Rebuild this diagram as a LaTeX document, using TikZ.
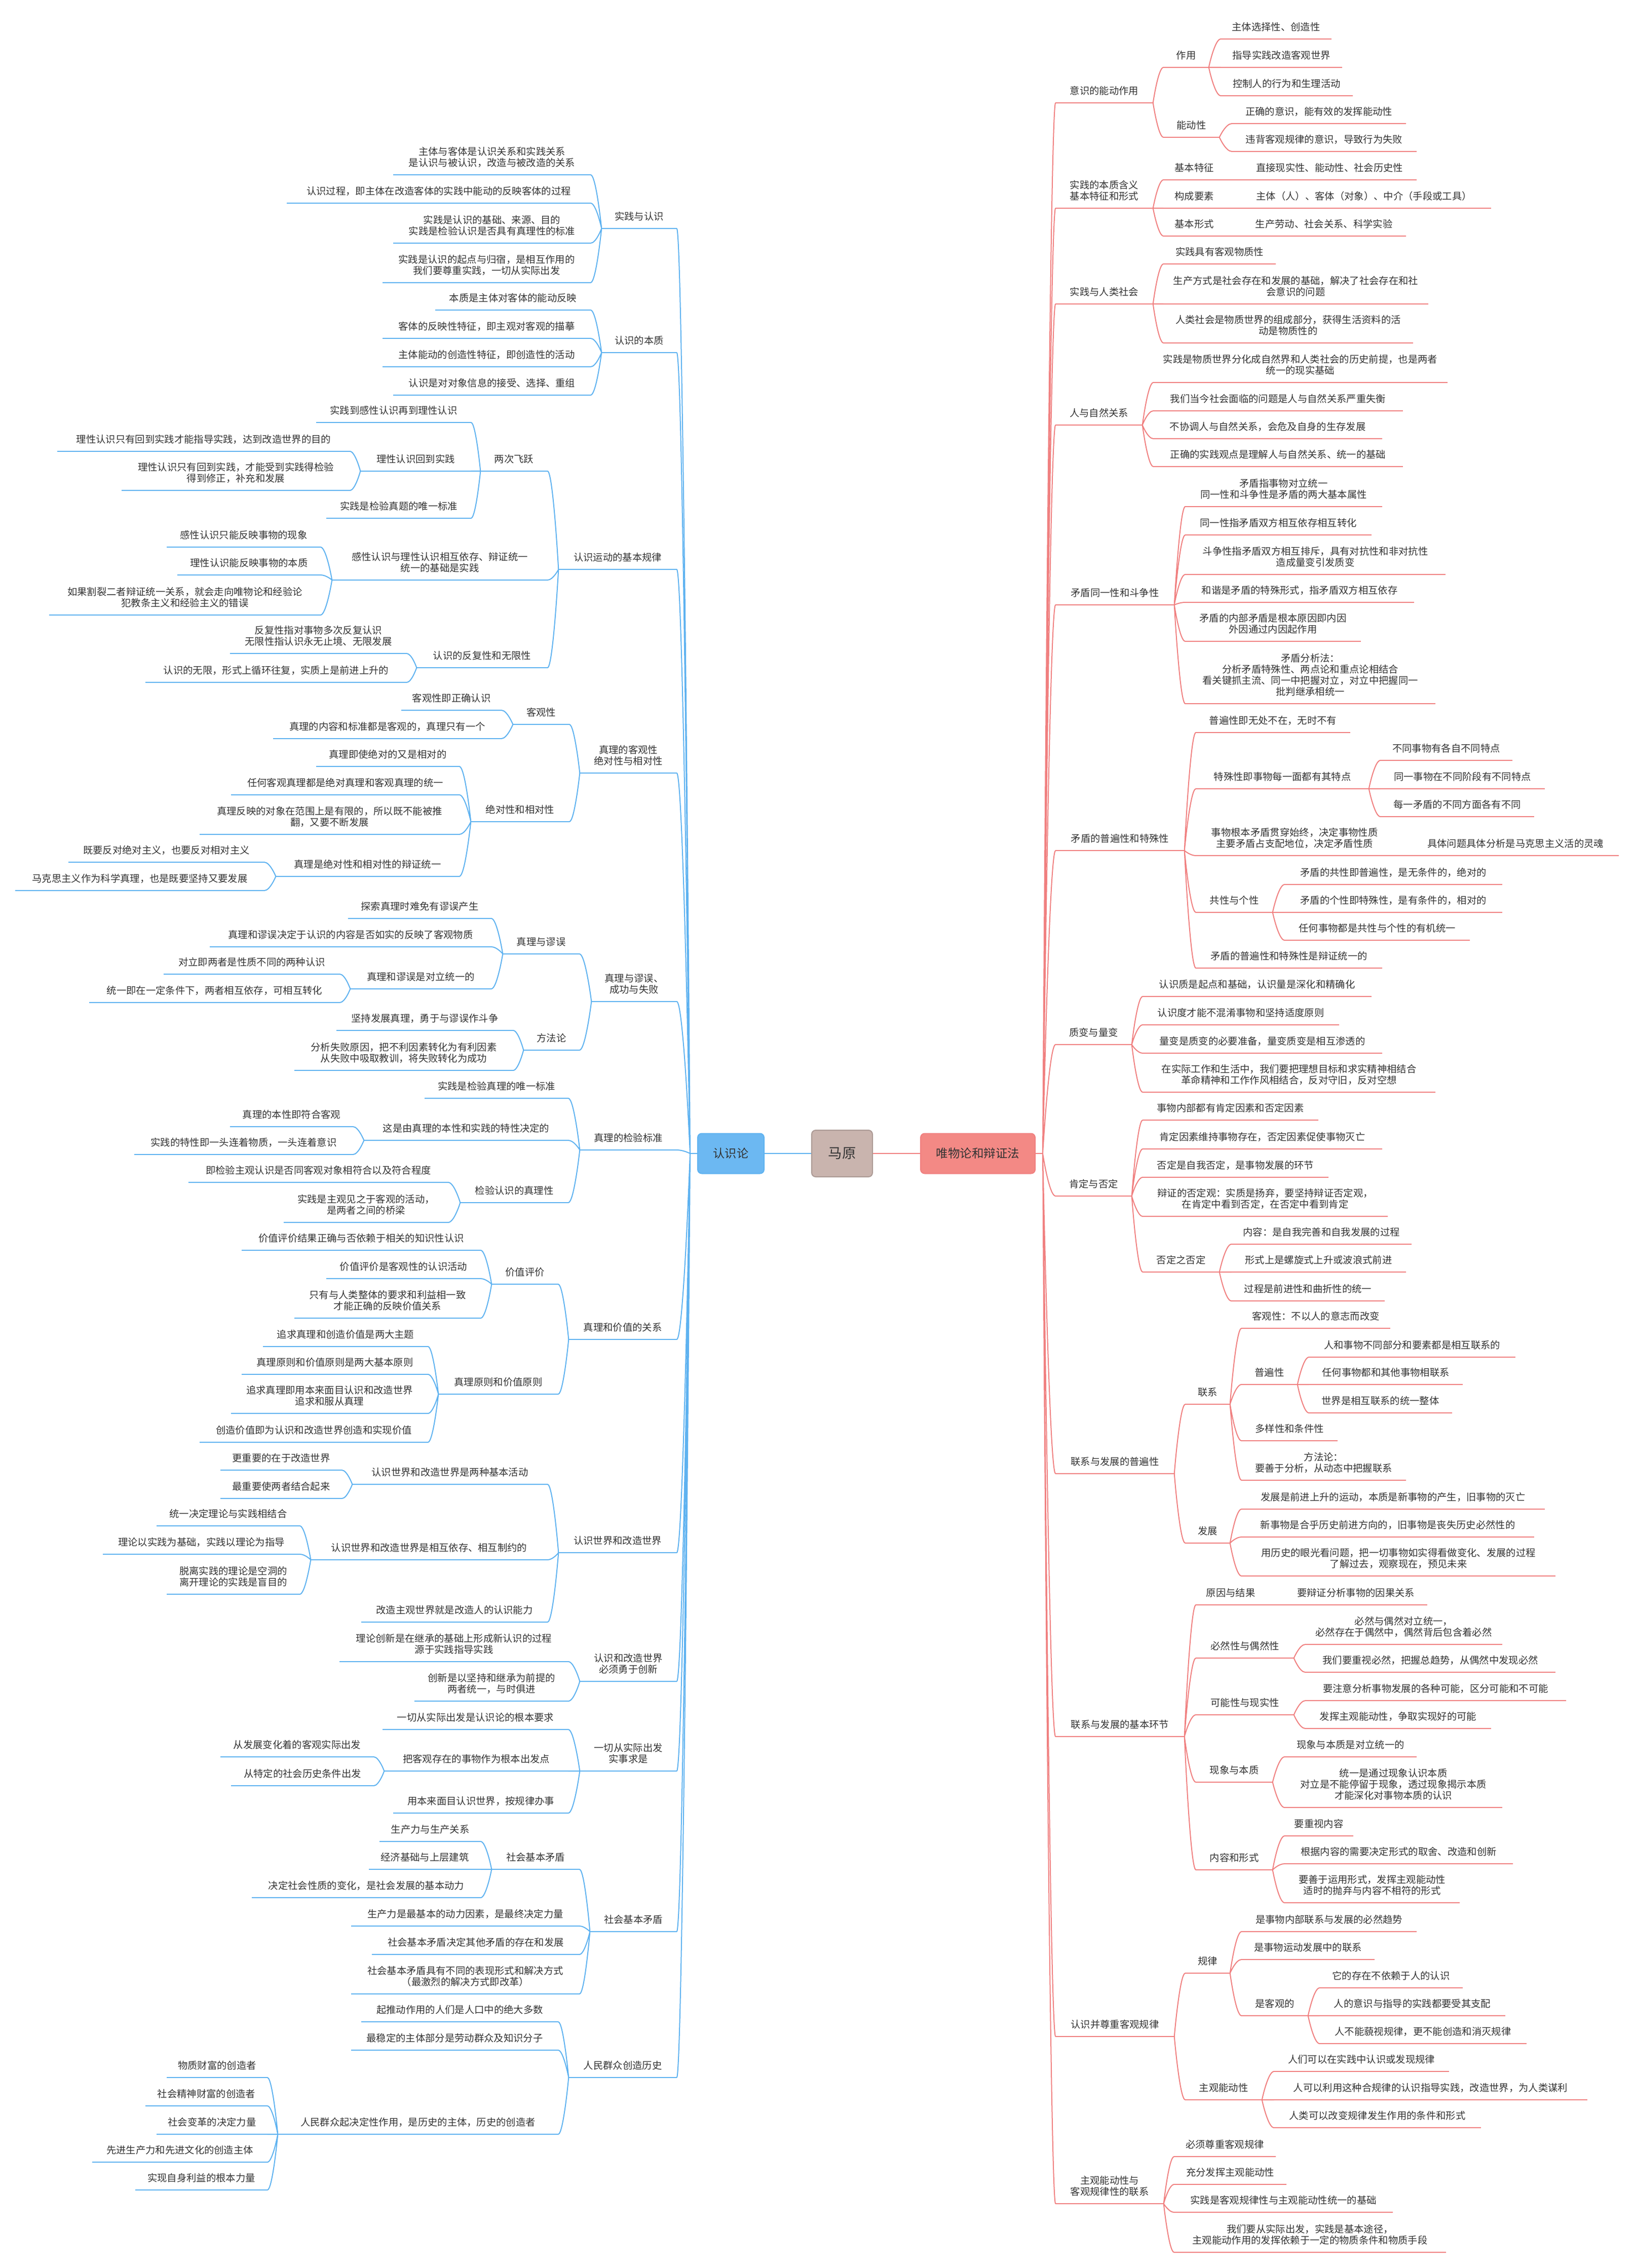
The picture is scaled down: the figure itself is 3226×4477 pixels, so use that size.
\documentclass[tikz,border=0pt]{standalone}
\usepackage{fontspec}
\setmainfont{Noto Sans CJK SC}
\usetikzlibrary{calc}
\definecolor{lnr}{RGB}{240,128,128}
\definecolor{lnb}{RGB}{94,178,240}
\definecolor{tx}{RGB}{51,51,51}
\definecolor{fb}{RGB}{108,184,242}
\definecolor{fm}{RGB}{201,180,174}
\definecolor{fr}{RGB}{243,137,133}
\begin{document}
\begin{tikzpicture}[x=0.1mm,y=-0.1mm,
  rl/.style={draw=lnr,line width=0.2mm},
  bl/.style={draw=lnb,line width=0.2mm},
  cv/.style={to path={.. controls (\tikztostart) and ($(\tikztostart |- \tikztotarget)!0.5!(\tikztotarget)$) .. (\tikztotarget)}},
  sp/.style n args={3}{at={({(#1+#2)/2},#3)},minimum width={(#2-#1)*0.1mm}},
  txt/.style={font=\fontsize{5.5}{6.3}\selectfont,text=tx,align=center,anchor=south,inner xsep=0pt,inner ysep=1.35mm,text depth=0.2mm},
  rt/.style={txt,append after command={(\tikzlastnode.south west) edge[rl] (\tikzlastnode.south east)}},
  bt/.style={txt,append after command={(\tikzlastnode.south west) edge[bl] (\tikzlastnode.south east)}},
  box/.style={rounded corners=0.8mm,inner sep=0pt,minimum height=7.9mm,text=tx,line width=0.2mm}]
\path[fill=white,use as bounding box] (0,0) rectangle (3226,4477);
%Khung giua
\node[box,fill=fm,draw=fm!85!black,minimum width=12mm,minimum height=9.2mm,font=\fontsize{7.8}{9}\selectfont] (my) at (1662,2277) {马原};
\node[box,fill=fb,draw=lnb,minimum width=13.1mm,font=\fontsize{6.6}{8}\selectfont] (rsl) at (1442.5,2277) {认识论};
\node[box,fill=fr,draw=lnr,minimum width=22.6mm,font=\fontsize{6.7}{8}\selectfont] (wl) at (1930,2277) {唯物论和辩证法};
\coordinate (lj) at (1362,2277);
\coordinate (rj) at (2058,2277);
\draw[bl] (my.west) -- (rsl.east);
\draw[rl] (my.east) -- (wl.west);
\draw[bl] (rsl.west) -- (lj);
\draw[rl] (wl.east) -- (rj);

%Ben phai 1
\node[rt,sp={2084}{2275}{203}] (r1) {意识的能动作用};
\node[rt,sp={2297}{2385}{133}] (r1a) {作用};
\node[rt,sp={2410}{2627}{77}] (r1a1) {主体选择性、创造性};
\node[rt,sp={2410}{2648}{133}] (r1a2) {指导实践改造客观世界};
\node[rt,sp={2410}{2669}{189}] (r1a3) {控制人的行为和生理活动};
\node[rt,sp={2297}{2406}{271}] (r1b) {能动性};
\node[rt,sp={2432}{2774}{244}] (r1b1) {正确的意识，能有效的发挥能动性};
\node[rt,sp={2432}{2795}{299}] (r1b2) {违背客观规律的意识，导致行为失败};
\draw[rl] (r1.south east) to[cv] (r1a.south west) (r1.south east) to[cv] (r1b.south west);
\draw[rl] (r1a.south east) to[cv] (r1a1.south west) (r1a.south east) to[cv] (r1a2.south west) (r1a.south east) to[cv] (r1a3.south west);
\draw[rl] (r1b.south east) to[cv] (r1b1.south west) (r1b.south east) to[cv] (r1b2.south west);
%Ben phai 2
\node[rt,sp={2084}{2275}{411}] (r2) {实践的本质含义\\基本特征和形式};
\node[rt,sp={2297}{2417}{355}] (r2a) {基本特征};
\node[rt,sp={2453}{2795}{355}] (r2a1) {直接现实性、能动性、社会历史性};
\node[rt,sp={2297}{2417}{411}] (r2b) {构成要素};
\node[rt,sp={2442}{2942}{411}] (r2b1) {主体（人）、客体（对象）、中介（手段或工具）};
\node[rt,sp={2297}{2417}{466}] (r2c) {基本形式};
\node[rt,sp={2452}{2774}{466}] (r2c1) {生产劳动、社会关系、科学实验};
\draw[rl] (r2.south east) to[cv] (r2a.south west) (r2.south east) to[cv] (r2b.south west) (r2.south east) to[cv] (r2c.south west);
\draw[rl] (r2a.south east) -- (r2a1.south west) (r2b.south east) -- (r2b1.south west) (r2c.south east) -- (r2c1.south west);
%Ben phai 3
\node[rt,sp={2084}{2275}{600}] (r3) {实践与人类社会};
\node[rt,sp={2297}{2517}{521}] (r3a) {实践具有客观物质性};
\node[rt,sp={2297}{2818}{600}] (r3b) {生产方式是社会存在和发展的基础，解决了社会存在和社\\会意识的问题};
\node[rt,sp={2297}{2788}{677}] (r3c) {人类社会是物质世界的组成部分，获得生活资料的活\\动是物质性的};
\draw[rl] (r3.south east) to[cv] (r3a.south west) (r3.south east) to[cv] (r3b.south west) (r3.south east) to[cv] (r3c.south west);
%Ben phai 4
\node[rt,sp={2084}{2254}{839}] (r4) {人与自然关系};
\node[rt,sp={2277}{2856}{755}] (r4a) {实践是物质世界分化成自然界和人类社会的历史前提，也是两者\\统一的现实基础};
\node[rt,sp={2277}{2768}{811}] (r4b) {我们当今社会面临的问题是人与自然关系严重失衡};
\node[rt,sp={2277}{2727}{866}] (r4c) {不协调人与自然关系，会危及自身的生存发展};
\node[rt,sp={2277}{2768}{921}] (r4d) {正确的实践观点是理解人与自然关系、统一的基础};
\draw[rl] (r4.south east) to[cv] (r4a.south west) (r4.south east) to[cv] (r4b.south west) (r4.south east) to[cv] (r4c.south west) (r4.south east) to[cv] (r4d.south west);
%Ben phai 5
\node[rt,sp={2084}{2317}{1194}] (r5) {矛盾同一性和斗争性};
\node[rt,sp={2340}{2727}{1000}] (r5a) {矛盾指事物对立统一\\同一性和斗争性是矛盾的两大基本属性};
\node[rt,sp={2340}{2706}{1056}] (r5b) {同一性指矛盾双方相互依存相互转化};
\node[rt,sp={2340}{2852}{1134}] (r5c) {斗争性指矛盾双方相互排斥，具有对抗性和非对抗性\\造成量变引发质变};
\node[rt,sp={2340}{2790}{1189}] (r5d) {和谐是矛盾的特殊形式，指矛盾双方相互依存};
\node[rt,sp={2340}{2685}{1266}] (r5e) {矛盾的内部矛盾是根本原因即内因\\外因通过内因起作用};
\node[rt,sp={2340}{2832}{1389}] (r5f) {矛盾分析法：\\分析矛盾特殊性、两点论和重点论相结合\\看关键抓主流、同一中把握对立，对立中把握同一\\批判继承相统一};
\draw[rl] (r5.south east) to[cv] (r5a.south west) (r5.south east) to[cv] (r5b.south west) (r5.south east) to[cv] (r5c.south west) (r5.south east) to[cv] (r5d.south west) (r5.south east) to[cv] (r5e.south west) (r5.south east) to[cv] (r5f.south west);
%Ben phai 6
\node[rt,sp={2084}{2337}{1679}] (r6) {矛盾的普遍性和特殊性};
\node[rt,sp={2361}{2664}{1446}] (r6a) {普遍性即无处不在，无时不有};
\node[rt,sp={2361}{2701}{1557}] (r6b) {特殊性即事物每一面都有其特点};
\node[rt,sp={2725}{2984}{1501}] (r6b1) {不同事物有各自不同特点};
\node[rt,sp={2725}{3048}{1557}] (r6b2) {同一事物在不同阶段有不同特点};
\node[rt,sp={2725}{3027}{1612}] (r6b3) {每一矛盾的不同方面各有不同};
\node[rt,sp={2361}{2749}{1689}] (r6c) {事物根本矛盾贯穿始终，决定事物性质\\主要矛盾占支配地位，决定矛盾性质};
\node[rt,sp={2788}{3194}{1689}] (r6c1) {具体问题具体分析是马克思主义活的灵魂};
\node[rt,sp={2361}{2511}{1801}] (r6d) {共性与个性};
\node[rt,sp={2536}{2964}{1746}] (r6d1) {矛盾的共性即普遍性，是无条件的，绝对的};
\node[rt,sp={2536}{2964}{1801}] (r6d2) {矛盾的个性即特殊性，是有条件的，相对的};
\node[rt,sp={2536}{2900}{1856}] (r6d3) {任何事物都是共性与个性的有机统一};
\node[rt,sp={2361}{2727}{1911}] (r6e) {矛盾的普遍性和特殊性是辩证统一的};
\draw[rl] (r6.south east) to[cv] (r6a.south west) (r6.south east) to[cv] (r6b.south west) (r6.south east) to[cv] (r6c.south west) (r6.south east) to[cv] (r6d.south west) (r6.south east) to[cv] (r6e.south west);
\draw[rl] (r6b.south east) to[cv] (r6b1.south west) (r6b.south east) to[cv] (r6b2.south west) (r6b.south east) to[cv] (r6b3.south west);
\draw[rl] (r6c.south east) -- (r6c1.south west);
\draw[rl] (r6d.south east) to[cv] (r6d1.south west) (r6d.south east) to[cv] (r6d2.south west) (r6d.south east) to[cv] (r6d3.south west);
%Ben phai 7
\node[rt,sp={2084}{2233}{2062}] (r7) {质变与量变};
\node[rt,sp={2256}{2706}{1967}] (r7a) {认识质是起点和基础，认识量是深化和精确化};
\node[rt,sp={2256}{2642}{2023}] (r7b) {认识度才能不混淆事物和坚持适度原则};
\node[rt,sp={2256}{2727}{2079}] (r7c) {量变是质变的必要准备，量变质变是相互渗透的};
\node[rt,sp={2256}{2832}{2156}] (r7d) {在实际工作和生活中，我们要把理想目标和求实精神相结合\\革命精神和工作作风相结合，反对守旧，反对空想};
\draw[rl] (r7.south east) to[cv] (r7a.south west) (r7.south east) to[cv] (r7b.south west) (r7.south east) to[cv] (r7c.south west) (r7.south east) to[cv] (r7d.south west);
%Ben phai 8
\node[rt,sp={2084}{2233}{2361}] (r8) {肯定与否定};
\node[rt,sp={2256}{2601}{2211}] (r8a) {事物内部都有肯定因素和否定因素};
\node[rt,sp={2256}{2727}{2268}] (r8b) {肯定因素维持事物存在，否定因素促使事物灭亡};
\node[rt,sp={2256}{2621}{2324}] (r8c) {否定是自我否定，是事物发展的环节};
\node[rt,sp={2256}{2738}{2401}] (r8d) {辩证的否定观：实质是扬弃，要坚持辩证否定观，\\在肯定中看到否定，在否定中看到肯定};
\node[rt,sp={2256}{2406}{2511}] (r8e) {否定之否定};
\node[rt,sp={2431}{2785}{2456}] (r8e1) {内容：是自我完善和自我发展的过程};
\node[rt,sp={2431}{2774}{2511}] (r8e2) {形式上是螺旋式上升或波浪式前进};
\node[rt,sp={2431}{2732}{2568}] (r8e3) {过程是前进性和曲折性的统一};
\draw[rl] (r8.south east) to[cv] (r8a.south west) (r8.south east) to[cv] (r8b.south west) (r8.south east) to[cv] (r8c.south west) (r8.south east) to[cv] (r8d.south west) (r8.south east) to[cv] (r8e.south west);
\draw[rl] (r8e.south east) to[cv] (r8e1.south west) (r8e.south east) to[cv] (r8e2.south west) (r8e.south east) to[cv] (r8e3.south west);
%Ben phai 9
\node[rt,sp={2084}{2317}{2909}] (r9) {联系与发展的普遍性};
\node[rt,sp={2340}{2427}{2772}] (r9a) {联系};
\node[rt,sp={2451}{2743}{2622}] (r9a1) {客观性：不以人的意志而改变};
\node[rt,sp={2451}{2560}{2733}] (r9a2) {普遍性};
\node[rt,sp={2584}{2990}{2679}] (r9a2a) {人和事物不同部分和要素都是相互联系的};
\node[rt,sp={2584}{2886}{2733}] (r9a2b) {任何事物都和其他事物相联系};
\node[rt,sp={2584}{2865}{2789}] (r9a2c) {世界是相互联系的统一整体};
\node[rt,sp={2451}{2639}{2844}] (r9a3) {多样性和条件性};
\node[rt,sp={2451}{2774}{2922}] (r9a4) {方法论：\\要善于分析，从动态中把握联系};
\node[rt,sp={2340}{2427}{3046}] (r9b) {发展};
\node[rt,sp={2451}{3048}{2979}] (r9b1) {发展是前进上升的运动，本质是新事物的产生，旧事物的灭亡};
\node[rt,sp={2451}{3027}{3034}] (r9b2) {新事物是合乎历史前进方向的，旧事物是丧失历史必然性的};
\node[rt,sp={2451}{3069}{3111}] (r9b3) {用历史的眼光看问题，把一切事物如实得看做变化、发展的过程\\了解过去，观察现在，预见未来};
\draw[rl] (r9.south east) to[cv] (r9a.south west) (r9.south east) to[cv] (r9b.south west);
\draw[rl] (r9a.south east) to[cv] (r9a1.south west) (r9a.south east) to[cv] (r9a2.south west) (r9a.south east) to[cv] (r9a3.south west) (r9a.south east) to[cv] (r9a4.south west);
\draw[rl] (r9a2.south east) to[cv] (r9a2a.south west) (r9a2.south east) to[cv] (r9a2b.south west) (r9a2.south east) to[cv] (r9a2c.south west);
\draw[rl] (r9b.south east) to[cv] (r9b1.south west) (r9b.south east) to[cv] (r9b2.south west) (r9b.south east) to[cv] (r9b3.south west);
%Ben phai 10
\node[rt,sp={2084}{2337}{3428}] (r10) {联系与发展的基本环节};
\node[rt,sp={2361}{2497}{3168}] (r10a) {原因与结果};
\node[rt,sp={2536}{2816}{3168}] (r10a1) {要辩证分析事物的因果关系};
\node[rt,sp={2361}{2553}{3273}] (r10b) {必然性与偶然性};
\node[rt,sp={2577}{2964}{3246}] (r10b1) {必然与偶然对立统一，\\必然存在于偶然中，偶然背后包含着必然};
\node[rt,sp={2577}{3069}{3301}] (r10b2) {我们要重视必然，把握总趋势，从偶然中发现必然};
\node[rt,sp={2361}{2553}{3385}] (r10c) {可能性与现实性};
\node[rt,sp={2577}{3090}{3357}] (r10c1) {要注意分析事物发展的各种可能，区分可能和不可能};
\node[rt,sp={2577}{2942}{3412}] (r10c2) {发挥主观能动性，争取实现好的可能};
\node[rt,sp={2361}{2511}{3518}] (r10d) {现象与本质};
\node[rt,sp={2536}{2795}{3468}] (r10d1) {现象与本质是对立统一的};
\node[rt,sp={2536}{2964}{3568}] (r10d2) {统一是通过现象认识本质\\对立是不能停留于现象，透过现象揭示本质\\才能深化对事物本质的认识};
\node[rt,sp={2361}{2511}{3691}] (r10e) {内容和形式};
\node[rt,sp={2536}{2670}{3624}] (r10e1) {要重视内容};
\node[rt,sp={2536}{2985}{3679}] (r10e2) {根据内容的需要决定形式的取舍、改造和创新};
\node[rt,sp={2536}{2880}{3756}] (r10e3) {要善于运用形式，发挥主观能动性\\适时的抛弃与内容不相符的形式};
\draw[rl] (r10.south east) to[cv] (r10a.south west) (r10.south east) to[cv] (r10b.south west) (r10.south east) to[cv] (r10c.south west) (r10.south east) to[cv] (r10d.south west) (r10.south east) to[cv] (r10e.south west);
\draw[rl] (r10a.south east) -- (r10a1.south west);
\draw[rl] (r10b.south east) to[cv] (r10b1.south west) (r10b.south east) to[cv] (r10b2.south west);
\draw[rl] (r10c.south east) to[cv] (r10c1.south west) (r10c.south east) to[cv] (r10c2.south west);
\draw[rl] (r10d.south east) to[cv] (r10d1.south west) (r10d.south east) to[cv] (r10d2.south west);
\draw[rl] (r10e.south east) to[cv] (r10e1.south west) (r10e.south east) to[cv] (r10e2.south west) (r10e.south east) to[cv] (r10e3.south west);
%Ben phai 11
\node[rt,sp={2084}{2317}{4020}] (r11) {认识并尊重客观规律};
\node[rt,sp={2340}{2427}{3895}] (r11a) {规律};
\node[rt,sp={2451}{2795}{3813}] (r11a1) {是事物内部联系与发展的必然趋势};
\node[rt,sp={2451}{2712}{3868}] (r11a2) {是事物运动发展中的联系};
\node[rt,sp={2451}{2581}{3979}] (r11a3) {是客观的};
\node[rt,sp={2605}{2886}{3924}] (r11a3a) {它的存在不依赖于人的认识};
\node[rt,sp={2605}{2970}{3979}] (r11a3b) {人的意识与指导的实践都要受其支配};
\node[rt,sp={2605}{3012}{4034}] (r11a3c) {人不能藐视规律，更不能创造和消灭规律};
\node[rt,sp={2340}{2490}{4145}] (r11b) {主观能动性};
\node[rt,sp={2515}{2859}{4089}] (r11b1) {人们可以在实践中认识或发现规律};
\node[rt,sp={2515}{3132}{4145}] (r11b2) {人可以利用这种合规律的认识指导实践，改造世界，为人类谋利};
\node[rt,sp={2515}{2922}{4200}] (r11b3) {人类可以改变规律发生作用的条件和形式};
\draw[rl] (r11.south east) to[cv] (r11a.south west) (r11.south east) to[cv] (r11b.south west);
\draw[rl] (r11a.south east) to[cv] (r11a1.south west) (r11a.south east) to[cv] (r11a2.south west) (r11a.south east) to[cv] (r11a3.south west);
\draw[rl] (r11a3.south east) to[cv] (r11a3a.south west) (r11a3.south east) to[cv] (r11a3b.south west) (r11a3.south east) to[cv] (r11a3c.south west);
\draw[rl] (r11b.south east) to[cv] (r11b1.south west) (r11b.south east) to[cv] (r11b2.south west) (r11b.south east) to[cv] (r11b3.south west);
%Ben phai 12
\node[rt,sp={2084}{2296}{4350}] (r12) {主观能动性与\\客观规律性的联系};
\node[rt,sp={2318}{2517}{4257}] (r12a) {必须尊重客观规律};
\node[rt,sp={2318}{2538}{4312}] (r12b) {充分发挥主观能动性};
\node[rt,sp={2318}{2748}{4367}] (r12c) {实践是客观规律性与主观能动性统一的基础};
\node[rt,sp={2318}{2853}{4446}] (r12d) {我们要从实际出发，实践是基本途径，\\主观能动作用的发挥依赖于一定的物质条件和物质手段};
\draw[rl] (r12.south east) to[cv] (r12a.south west) (r12.south east) to[cv] (r12b.south west) (r12.south east) to[cv] (r12c.south west) (r12.south east) to[cv] (r12d.south west);
%Than phai
\draw[rl] (rj) to[cv] (r1.south west) (rj) to[cv] (r2.south west) (rj) to[cv] (r3.south west) (rj) to[cv] (r4.south west) (rj) to[cv] (r5.south west) (rj) to[cv] (r6.south west) (rj) to[cv] (r7.south west) (rj) to[cv] (r8.south west) (rj) to[cv] (r9.south west) (rj) to[cv] (r10.south west) (rj) to[cv] (r11.south west) (rj) to[cv] (r12.south west);

%Ben trai 1
\node[bt,sp={1188}{1335}{451}] (l1) {实践与认识};
\node[bt,sp={777}{1165}{345}] (l1a) {主体与客体是认识关系和实践关系\\是认识与被认识，改造与被改造的关系};
\node[bt,sp={567}{1165}{401}] (l1b) {认识过程，即主体在改造客体的实践中能动的反映客体的过程};
\node[bt,sp={777}{1165}{480}] (l1c) {实践是认识的基础、来源、目的\\实践是检验认识是否具有真理性的标准};
\node[bt,sp={756}{1165}{558}] (l1d) {实践是认识的起点与归宿，是相互作用的\\我们要尊重实践，一切从实际出发};
\draw[bl] (l1.south west) to[cv] (l1a.south east) (l1.south west) to[cv] (l1b.south east) (l1.south west) to[cv] (l1c.south east) (l1.south west) to[cv] (l1d.south east);
%Ben trai 2
\node[bt,sp={1188}{1335}{696}] (l2) {认识的本质};
\node[bt,sp={860}{1165}{612}] (l2a) {本质是主体对客体的能动反映};
\node[bt,sp={756}{1165}{668}] (l2b) {客体的反映性特征，即主观对客观的描摹};
\node[bt,sp={756}{1165}{724}] (l2c) {主体能动的创造性特征，即创造性的活动};
\node[bt,sp={777}{1165}{780}] (l2d) {认识是对对象信息的接受、选择、重组};
\draw[bl] (l2.south west) to[cv] (l2a.south east) (l2.south west) to[cv] (l2b.south east) (l2.south west) to[cv] (l2c.south east) (l2.south west) to[cv] (l2d.south east);
%Ben trai 3
\node[bt,sp={1103}{1335}{1124}] (l3) {认识运动的基本规律};
\node[bt,sp={949}{1080}{930}] (l3a) {两次飞跃};
\node[bt,sp={625}{929}{834}] (l3a1) {实践到感性认识再到理性认识};
\node[bt,sp={712}{929}{930}] (l3a2) {理性认识回到实践};
\node[bt,sp={114}{690}{891}] (l3a2a) {理性认识只有回到实践才能指导实践，达到改造世界的目的};
\node[bt,sp={241}{690}{968}] (l3a2b) {理性认识只有回到实践，才能受到实践得检验\\得到修正，补充和发展};
\node[bt,sp={645}{929}{1023}] (l3a3) {实践是检验真题的唯一标准};
\node[bt,sp={656}{1080}{1145}] (l3b) {感性认识与理性认识相互依存、辩证统一\\统一的基础是实践};
\node[bt,sp={330}{632}{1080}] (l3b1) {感性认识只能反映事物的现象};
\node[bt,sp={351}{632}{1135}] (l3b2) {理性认识能反映事物的本质};
\node[bt,sp={98}{632}{1214}] (l3b3) {如果割裂二者辩证统一关系，就会走向唯物论和经验论\\犯教条主义和经验主义的错误};
\node[bt,sp={823}{1080}{1318}] (l3c) {认识的反复性和无限性};
\node[bt,sp={455}{802}{1290}] (l3c1) {反复性指对事物多次反复认识\\无限性指认识永无止境、无限发展};
\node[bt,sp={288}{802}{1347}] (l3c2) {认识的无限，形式上循环往复，实质上是前进上升的};
\draw[bl] (l3.south west) to[cv] (l3a.south east) (l3.south west) to[cv] (l3b.south east) (l3.south west) to[cv] (l3c.south east);
\draw[bl] (l3a.south west) to[cv] (l3a1.south east) (l3a.south west) to[cv] (l3a2.south east) (l3a.south west) to[cv] (l3a3.south east);
\draw[bl] (l3a2.south west) to[cv] (l3a2a.south east) (l3a2.south west) to[cv] (l3a2b.south east);
\draw[bl] (l3b.south west) to[cv] (l3b1.south east) (l3b.south west) to[cv] (l3b2.south east) (l3b.south west) to[cv] (l3b3.south east);
\draw[bl] (l3c.south west) to[cv] (l3c1.south east) (l3c.south west) to[cv] (l3c2.south east);
%Ben trai 4
\node[bt,sp={1145}{1335}{1526}] (l4) {真理的客观性\\绝对性与相对性};
\node[bt,sp={1013}{1123}{1430}] (l4a) {客观性};
\node[bt,sp={793}{989}{1402}] (l4a1) {客观性即正确认识};
\node[bt,sp={540}{989}{1458}] (l4a2) {真理的内容和标准都是客观的，真理只有一个};
\node[bt,sp={930}{1123}{1622}] (l4b) {绝对性和相对性};
\node[bt,sp={625}{906}{1513}] (l4b1) {真理即使绝对的又是相对的};
\node[bt,sp={457}{906}{1569}] (l4b2) {任何客观真理都是绝对真理和客观真理的统一};
\node[bt,sp={395}{906}{1647}] (l4b3) {真理反映的对象在范围上是有限的，所以既不能被推\\翻，又要不断发展};
\node[bt,sp={545}{906}{1730}] (l4b4) {真理是绝对性和相对性的辩证统一};
\node[bt,sp={136}{521}{1702}] (l4b4a) {既要反对绝对主义，也要反对相对主义};
\node[bt,sp={31}{521}{1758}] (l4b4b) {马克思主义作为科学真理，也是既要坚持又要发展};
\draw[bl] (l4.south west) to[cv] (l4a.south east) (l4.south west) to[cv] (l4b.south east);
\draw[bl] (l4a.south west) to[cv] (l4a1.south east) (l4a.south west) to[cv] (l4a2.south east);
\draw[bl] (l4b.south west) to[cv] (l4b1.south east) (l4b.south west) to[cv] (l4b2.south east) (l4b.south west) to[cv] (l4b3.south east) (l4b.south west) to[cv] (l4b4.south east);
\draw[bl] (l4b4.south west) to[cv] (l4b4a.south east) (l4b4.south west) to[cv] (l4b4b.south east);
%Ben trai 5
\node[bt,sp={1168}{1335}{1977}] (l5) {真理与谬误、\\成功与失败};
\node[bt,sp={993}{1143}{1883}] (l5a) {真理与谬误};
\node[bt,sp={688}{969}{1813}] (l5a1) {探索真理时难免有谬误产生};
\node[bt,sp={415}{969}{1869}] (l5a2) {真理和谬误决定于认识的内容是否如实的反映了客观物质};
\node[bt,sp={692}{969}{1952}] (l5a3) {真理和谬误是对立统一的};
\node[bt,sp={324}{670}{1923}] (l5a3a) {对立即两者是性质不同的两种认识};
\node[bt,sp={177}{670}{1979}] (l5a3b) {统一即在一定条件下，两者相互依存，可相互转化};
\node[bt,sp={1034}{1143}{2073}] (l5b) {方法论};
\node[bt,sp={665}{1012}{2034}] (l5b1) {坚持发展真理，勇于与谬误作斗争};
\node[bt,sp={582}{1012}{2113}] (l5b2) {分析失败原因，把不利因素转化为有利因素\\从失败中吸取教训，将失败转化为成功};
\draw[bl] (l5.south west) to[cv] (l5a.south east) (l5.south west) to[cv] (l5b.south east);
\draw[bl] (l5a.south west) to[cv] (l5a1.south east) (l5a.south west) to[cv] (l5a2.south east) (l5a.south west) to[cv] (l5a3.south east);
\draw[bl] (l5a3.south west) to[cv] (l5a3a.south east) (l5a3.south west) to[cv] (l5a3b.south east);
\draw[bl] (l5b.south west) to[cv] (l5b1.south east) (l5b.south west) to[cv] (l5b2.south east);
%Ben trai 6
\node[bt,sp={1145}{1335}{2270}] (l6) {真理的检验标准};
\node[bt,sp={839}{1121}{2168}] (l6a) {实践是检验真理的唯一标准};
\node[bt,sp={719}{1121}{2251}] (l6b) {这是由真理的本性和实践的特性决定的};
\node[bt,sp={455}{696}{2224}] (l6b1) {真理的本性即符合客观};
\node[bt,sp={266}{696}{2279}] (l6b2) {实践的特性即一头连着物质，一头连着意识};
\node[bt,sp={909}{1121}{2374}] (l6c) {检验认识的真理性};
\node[bt,sp={373}{884}{2334}] (l6c1) {即检验主观认识是否同客观对象相符合以及符合程度};
\node[bt,sp={561}{884}{2413}] (l6c2) {实践是主观见之于客观的活动，\\是两者之间的桥梁};
\draw[bl] (l6.south west) to[cv] (l6a.south east) (l6.south west) to[cv] (l6b.south east) (l6.south west) to[cv] (l6c.south east);
\draw[bl] (l6b.south west) to[cv] (l6b1.south east) (l6b.south west) to[cv] (l6b2.south east);
\draw[bl] (l6c.south west) to[cv] (l6c1.south east) (l6c.south west) to[cv] (l6c2.south east);
%Ben trai 7
\node[bt,sp={1123}{1335}{2644}] (l7) {真理和价值的关系};
\node[bt,sp={971}{1101}{2535}] (l7a) {价值评价};
\node[bt,sp={478}{948}{2468}] (l7a1) {价值评价结果正确与否依赖于相关的知识性认识};
\node[bt,sp={645}{948}{2524}] (l7a2) {价值评价是客观性的认识活动};
\node[bt,sp={582}{948}{2602}] (l7a3) {只有与人类整体的要求和利益相一致\\才能正确的反映价值关系};
\node[bt,sp={866}{1101}{2752}] (l7b) {真理原则和价值原则};
\node[bt,sp={520}{844}{2658}] (l7b1) {追求真理和创造价值是两大主题};
\node[bt,sp={478}{844}{2713}] (l7b2) {真理原则和价值原则是两大基本原则};
\node[bt,sp={457}{844}{2790}] (l7b3) {追求真理即用本来面目认识和改造世界\\追求和服从真理};
\node[bt,sp={395}{844}{2847}] (l7b4) {创造价值即为认识和改造世界创造和实现价值};
\draw[bl] (l7.south west) to[cv] (l7a.south east) (l7.south west) to[cv] (l7b.south east);
\draw[bl] (l7a.south west) to[cv] (l7a1.south east) (l7a.south west) to[cv] (l7a2.south east) (l7a.south west) to[cv] (l7a3.south east);
\draw[bl] (l7b.south west) to[cv] (l7b1.south east) (l7b.south west) to[cv] (l7b2.south east) (l7b.south west) to[cv] (l7b3.south east) (l7b.south west) to[cv] (l7b4.south east);
%Ben trai 8
\node[bt,sp={1103}{1335}{3065}] (l8) {认识世界和改造世界};
\node[bt,sp={696}{1080}{2930}] (l8a) {认识世界和改造世界是两种基本活动};
\node[bt,sp={436}{674}{2902}] (l8a1) {更重要的在于改造世界};
\node[bt,sp={436}{674}{2958}] (l8a2) {最重要使两者结合起来};
\node[bt,sp={614}{1080}{3079}] (l8b) {认识世界和改造世界是相互依存、相互制约的};
\node[bt,sp={310}{591}{3012}] (l8b1) {统一决定理论与实践相结合};
\node[bt,sp={204}{591}{3068}] (l8b2) {理论以实践为基础，实践以理论为指导};
\node[bt,sp={330}{591}{3147}] (l8b3) {脱离实践的理论是空洞的\\离开理论的实践是盲目的};
\node[bt,sp={714}{1080}{3202}] (l8c) {改造主观世界就是改造人的认识能力};
\draw[bl] (l8.south west) to[cv] (l8a.south east) (l8.south west) to[cv] (l8b.south east) (l8.south west) to[cv] (l8c.south east);
\draw[bl] (l8a.south west) to[cv] (l8a1.south east) (l8a.south west) to[cv] (l8a2.south east);
\draw[bl] (l8b.south west) to[cv] (l8b1.south east) (l8b.south west) to[cv] (l8b2.south east) (l8b.south west) to[cv] (l8b3.south east);
%Ben trai 9
\node[bt,sp={1145}{1335}{3319}] (l9) {认识和改造世界\\必须勇于创新};
\node[bt,sp={671}{1121}{3280}] (l9a) {理论创新是在继承的基础上形成新认识的过程\\源于实践指导实践};
\node[bt,sp={819}{1121}{3358}] (l9b) {创新是以坚持和继承为前提的\\两者统一，与时俱进};
\draw[bl] (l9.south west) to[cv] (l9a.south east) (l9.south west) to[cv] (l9b.south east);
%Ben trai 10
\node[bt,sp={1145}{1335}{3496}] (l10) {一切从实际出发\\实事求是};
\node[bt,sp={756}{1121}{3414}] (l10a) {一切从实际出发是认识论的根本要求};
\node[bt,sp={759}{1121}{3496}] (l10b) {把客观存在的事物作为根本出发点};
\node[bt,sp={436}{737}{3468}] (l10b1) {从发展变化着的客观实际出发};
\node[bt,sp={457}{737}{3525}] (l10b2) {从特定的社会历史条件出发};
\node[bt,sp={777}{1121}{3579}] (l10c) {用本来面目认识世界，按规律办事};
\draw[bl] (l10.south west) to[cv] (l10a.south east) (l10.south west) to[cv] (l10b.south east) (l10.south west) to[cv] (l10c.south east);
\draw[bl] (l10b.south west) to[cv] (l10b1.south east) (l10b.south west) to[cv] (l10b2.south east);
%Ben trai 11
\node[bt,sp={1165}{1335}{3813}] (l11) {社会基本矛盾};
\node[bt,sp={971}{1143}{3690}] (l11a) {社会基本矛盾};
\node[bt,sp={750}{948}{3635}] (l11a1) {生产力与生产关系};
\node[bt,sp={729}{948}{3690}] (l11a2) {经济基础与上层建筑};
\node[bt,sp={498}{948}{3746}] (l11a3) {决定社会性质的变化，是社会发展的基本动力};
\node[bt,sp={694}{1143}{3802}] (l11b) {生产力是最基本的动力因素，是最终决定力量};
\node[bt,sp={735}{1143}{3858}] (l11c) {社会基本矛盾决定其他矛盾的存在和发展};
\node[bt,sp={694}{1143}{3936}] (l11d) {社会基本矛盾具有不同的表现形式和解决方式\\（最激烈的解决方式即改革）};
\draw[bl] (l11.south west) to[cv] (l11a.south east) (l11.south west) to[cv] (l11b.south east) (l11.south west) to[cv] (l11c.south east) (l11.south west) to[cv] (l11d.south east);
\draw[bl] (l11a.south west) to[cv] (l11a1.south east) (l11a.south west) to[cv] (l11a2.south east) (l11a.south west) to[cv] (l11a3.south east);
%Ben trai 12
\node[bt,sp={1123}{1335}{4101}] (l12) {人民群众创造历史};
\node[bt,sp={714}{1101}{3991}] (l12a) {起推动作用的人们是人口中的绝大多数};
\node[bt,sp={694}{1101}{4047}] (l12b) {最稳定的主体部分是劳动群众及知识分子};
\node[bt,sp={549}{1101}{4213}] (l12c) {人民群众起决定性作用，是历史的主体，历史的创造者};
\node[bt,sp={330}{527}{4101}] (l12c1) {物质财富的创造者};
\node[bt,sp={288}{527}{4157}] (l12c2) {社会精神财富的创造者};
\node[bt,sp={310}{527}{4213}] (l12c3) {社会变革的决定力量};
\node[bt,sp={183}{527}{4268}] (l12c4) {先进生产力和先进文化的创造主体};
\node[bt,sp={268}{527}{4323}] (l12c5) {实现自身利益的根本力量};
\draw[bl] (l12.south west) to[cv] (l12a.south east) (l12.south west) to[cv] (l12b.south east) (l12.south west) to[cv] (l12c.south east);
\draw[bl] (l12c.south west) to[cv] (l12c1.south east) (l12c.south west) to[cv] (l12c2.south east) (l12c.south west) to[cv] (l12c3.south east) (l12c.south west) to[cv] (l12c4.south east) (l12c.south west) to[cv] (l12c5.south east);
%Than trai
\draw[bl] (lj) to[cv] (l1.south east) (lj) to[cv] (l2.south east) (lj) to[cv] (l3.south east) (lj) to[cv] (l4.south east) (lj) to[cv] (l5.south east) (lj) to[cv] (l6.south east) (lj) to[cv] (l7.south east) (lj) to[cv] (l8.south east) (lj) to[cv] (l9.south east) (lj) to[cv] (l10.south east) (lj) to[cv] (l11.south east) (lj) to[cv] (l12.south east);
\end{tikzpicture}
\end{document}
